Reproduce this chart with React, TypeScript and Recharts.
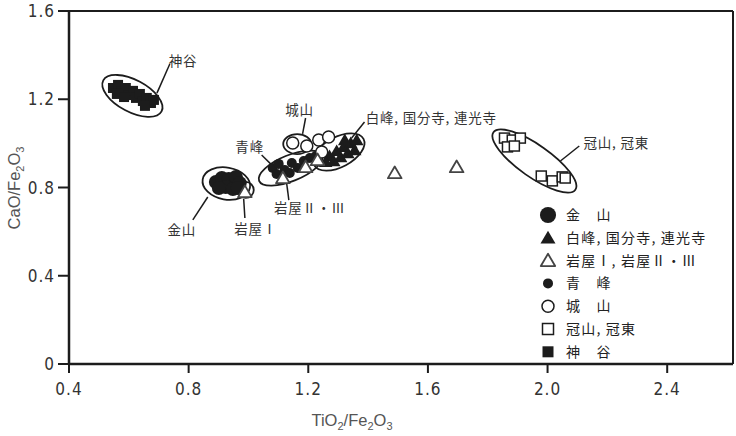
import React from "react";
import { ReferenceLine, Scatter, ScatterChart, XAxis, YAxis } from "recharts";

const INK = "#1c1c1c";
const TEXT = "#333";
const JP = "'Noto Sans CJK JP', 'Noto Sans CJK SC', sans-serif";
const NUM = "'Liberation Sans Narrow', 'DejaVu Sans Condensed', 'Liberation Sans', sans-serif";

const xTicks = [0.4, 0.8, 1.2, 1.6, 2.0, 2.4];
const yTicks = [0, 0.4, 0.8, 1.2, 1.6];
const X_MAX = 2.62;

// 神谷
const kamiya = [
  { x: 0.547, y: 1.251 }, { x: 0.564, y: 1.265 }, { x: 0.574, y: 1.233 }, { x: 0.59, y: 1.251 },
  { x: 0.6, y: 1.219 }, { x: 0.614, y: 1.238 }, { x: 0.624, y: 1.206 }, { x: 0.637, y: 1.224 },
  { x: 0.647, y: 1.192 }, { x: 0.66, y: 1.206 }, { x: 0.674, y: 1.183 }, { x: 0.684, y: 1.197 },
  { x: 0.56, y: 1.224 }, { x: 0.584, y: 1.21 }, { x: 0.654, y: 1.17 },
];

// 金山
const kanayama = [
  { x: 0.891, y: 0.825 }, { x: 0.911, y: 0.843 }, { x: 0.934, y: 0.839 }, { x: 0.958, y: 0.848 },
  { x: 0.971, y: 0.82 }, { x: 0.924, y: 0.802 }, { x: 0.901, y: 0.798 }, { x: 0.948, y: 0.793 },
  { x: 0.964, y: 0.798 },
];

// 青峰
const aomine = [
  { x: 1.081, y: 0.888 }, { x: 1.101, y: 0.907 }, { x: 1.121, y: 0.879 }, { x: 1.145, y: 0.911 },
  { x: 1.165, y: 0.888 }, { x: 1.185, y: 0.92 }, { x: 1.205, y: 0.934 }, { x: 1.094, y: 0.861 },
  { x: 1.138, y: 0.866 }, { x: 1.225, y: 0.943 },
];

// 白峰, 国分寺, 連光寺
const shiramine = [
  { x: 1.271, y: 0.943 }, { x: 1.295, y: 0.966 }, { x: 1.318, y: 0.984 }, { x: 1.342, y: 1.002 },
  { x: 1.362, y: 1.015 }, { x: 1.285, y: 0.92 }, { x: 1.308, y: 0.938 }, { x: 1.332, y: 0.956 },
  { x: 1.355, y: 0.97 }, { x: 1.258, y: 0.916 }, { x: 1.322, y: 1.015 },
];

// 城山
const shiroyama = [
  { x: 1.148, y: 1.002 }, { x: 1.195, y: 0.988 }, { x: 1.235, y: 1.015 }, { x: 1.268, y: 1.029 },
  { x: 1.245, y: 0.961 },
];

// 岩屋Ⅰ, 岩屋Ⅱ・Ⅲ
const iwaya = [
  { x: 0.988, y: 0.78 }, { x: 1.115, y: 0.843 }, { x: 1.191, y: 0.893 }, { x: 1.231, y: 0.925 },
  { x: 1.489, y: 0.866 }, { x: 1.696, y: 0.893 },
];

// 冠山, 冠東
const kanmuri = [
  { x: 1.856, y: 1.024 }, { x: 1.882, y: 1.015 }, { x: 1.909, y: 1.024 }, { x: 1.866, y: 0.984 },
  { x: 1.889, y: 0.988 }, { x: 1.979, y: 0.852 }, { x: 2.016, y: 0.83 }, { x: 2.049, y: 0.848 },
  { x: 2.059, y: 0.843 },
];

// group outlines (centre in data units, axes in px, tilt in degrees)
const outlines = [
  { x: 0.612, y: 1.215, rx: 33, ry: 16, tilt: 28 },
  { x: 0.926, y: 0.818, rx: 24, ry: 16, tilt: 10 },
  { x: 0.991, y: 0.789, rx: 8, ry: 8, tilt: 0 },
  { x: 1.141, y: 0.888, rx: 34, ry: 13, tilt: -22 },
  { x: 1.163, y: 0.997, rx: 14, ry: 10, tilt: 0 },
  { x: 1.302, y: 0.961, rx: 28, ry: 15, tilt: -28 },
  { x: 1.956, y: 0.92, rx: 50, ry: 16, tilt: 35 },
];

const labels = [
  { x: 0.781, y: 1.374, text: "神谷", anchor: "middle" },
  { x: 1.171, y: 1.151, text: "城山", anchor: "middle" },
  { x: 1.392, y: 1.115, text: "白峰, 国分寺, 連光寺", anchor: "start" },
  { x: 1.004, y: 0.984, text: "青峰", anchor: "middle" },
  { x: 2.12, y: 1.002, text: "冠山, 冠東", anchor: "start" },
  { x: 0.777, y: 0.607, text: "金山", anchor: "middle" },
  { x: 1.024, y: 0.612, text: "岩屋Ⅰ", anchor: "middle" },
  { x: 1.205, y: 0.707, text: "岩屋Ⅱ・Ⅲ", anchor: "middle" },
];

const leaders = [
  [{ x: 0.737, y: 1.36 }, { x: 0.694, y: 1.228 }],
  [{ x: 1.191, y: 1.115 }, { x: 1.181, y: 1.043 }],
  [{ x: 1.388, y: 1.097 }, { x: 1.345, y: 1.024 }],
  [{ x: 1.044, y: 0.947 }, { x: 1.081, y: 0.898 }],
  [{ x: 2.106, y: 0.988 }, { x: 2.043, y: 0.92 }],
  [{ x: 0.864, y: 0.757 }, { x: 0.814, y: 0.653 }],
  [{ x: 0.984, y: 0.748 }, { x: 0.988, y: 0.662 }],
  [{ x: 1.128, y: 0.816 }, { x: 1.135, y: 0.743 }],
];

type Mk = (cx: number, cy: number, k?: number) => React.ReactElement;

const bigDot: Mk = (cx, cy, k = 1) => <circle cx={cx} cy={cy} r={7 * k} fill={INK} />;
const smallDot: Mk = (cx, cy, k = 1) => <circle cx={cx} cy={cy} r={5 * k} fill={INK} />;
const openDot: Mk = (cx, cy, k = 1) => (
  <circle cx={cx} cy={cy} r={6 * k} fill="#fff" stroke={INK} strokeWidth={1.5} />
);
const tri = (cx: number, cy: number, k: number) => {
  const s = 6.5 * k;
  return `${cx},${cy - s} ${cx - s * 1.05},${cy + s * 0.8} ${cx + s * 1.05},${cy + s * 0.8}`;
};
const fillTri: Mk = (cx, cy, k = 1) => <polygon points={tri(cx, cy, k)} fill={INK} />;
const openTri: Mk = (cx, cy, k = 1) => (
  <polygon points={tri(cx, cy, k)} fill="#fff" stroke="#444" strokeWidth={1.8} strokeLinejoin="round" />
);
const openSq: Mk = (cx, cy, k = 1) => (
  <rect x={cx - 5 * k} y={cy - 5 * k} width={10 * k} height={10 * k} fill="#fff" stroke={INK} strokeWidth={1.5} />
);
const fillSq: Mk = (cx, cy, k = 1) => (
  <rect x={cx - 5 * k} y={cy - 5 * k} width={10 * k} height={10 * k} fill={INK} />
);

const asShape = (mk: Mk) => (p: any) => (p.cx == null ? <g /> : mk(p.cx, p.cy));

const legendRows: { text: string; mk: Mk; k: number }[] = [
  { text: "金　山", mk: bigDot, k: 1.15 },
  { text: "白峰, 国分寺, 連光寺", mk: fillTri, k: 1.1 },
  { text: "岩屋Ⅰ, 岩屋Ⅱ・Ⅲ", mk: openTri, k: 1.05 },
  { text: "青　峰", mk: smallDot, k: 1 },
  { text: "城　山", mk: openDot, k: 1 },
  { text: "冠山, 冠東", mk: openSq, k: 1.1 },
  { text: "神　谷", mk: fillSq, k: 1.1 },
];

const tickStyle = { fontFamily: NUM, fontSize: 17, fill: TEXT, letterSpacing: 1 };

export default function App() {
  return (
    <div style={{ position: "absolute", left: 0, top: 0, width: 736, height: 436, background: "#fff" }}>
      <ScatterChart width={736} height={436} margin={{ top: 11, right: 3, bottom: 0, left: 0 }}>
        <XAxis
          type="number"
          dataKey="x"
          domain={[0.4, X_MAX]}
          ticks={xTicks}
          height={72}
          tickSize={9}
          tickMargin={10}
          tick={tickStyle}
          tickFormatter={(v: number) => v.toFixed(1)}
          axisLine={{ stroke: INK, strokeWidth: 2.5 }}
          tickLine={{ stroke: INK, strokeWidth: 2 }}
          allowDataOverflow
        />
        <YAxis
          type="number"
          dataKey="y"
          domain={[0, 1.6]}
          ticks={yTicks}
          width={69}
          tickSize={11}
          tickMargin={3}
          tick={tickStyle}
          tickFormatter={(v: number) => (v === 0 ? "0" : v.toFixed(1))}
          axisLine={{ stroke: INK, strokeWidth: 2.5 }}
          tickLine={{ stroke: INK, strokeWidth: 2 }}
          allowDataOverflow
        />
        <ReferenceLine y={1.6} stroke={INK} strokeWidth={2} />
        <ReferenceLine x={X_MAX} stroke={INK} strokeWidth={2} />
        {leaders.map((seg, i) => (
          <ReferenceLine key={i} segment={seg} stroke={INK} strokeWidth={1.5} ifOverflow="visible" />
        ))}
        <Scatter
          data={outlines}
          isAnimationActive={false}
          shape={(p: any) =>
            p.cx == null ? (
              <g />
            ) : (
              <ellipse
                cx={p.cx}
                cy={p.cy}
                rx={p.payload.rx}
                ry={p.payload.ry}
                transform={`rotate(${p.payload.tilt} ${p.cx} ${p.cy})`}
                fill="none"
                stroke={INK}
                strokeWidth={1.8}
              />
            )
          }
        />
        <Scatter data={kamiya} isAnimationActive={false} shape={asShape(fillSq)} />
        <Scatter data={kanayama} isAnimationActive={false} shape={asShape(bigDot)} />
        <Scatter data={aomine} isAnimationActive={false} shape={asShape(smallDot)} />
        <Scatter data={shiramine} isAnimationActive={false} shape={asShape(fillTri)} />
        <Scatter data={shiroyama} isAnimationActive={false} shape={asShape(openDot)} />
        <Scatter data={iwaya} isAnimationActive={false} shape={asShape(openTri)} />
        <Scatter data={kanmuri} isAnimationActive={false} shape={asShape(openSq)} />
        <Scatter
          data={labels}
          isAnimationActive={false}
          shape={(p: any) =>
            p.cx == null ? (
              <g />
            ) : (
              <text
                x={p.cx}
                y={p.cy}
                dy="0.36em"
                textAnchor={p.payload.anchor}
                fontFamily={JP}
                fontSize={13.5}
                fill={TEXT}
                letterSpacing={0.8}
              >
                {p.payload.text}
              </text>
            )
          }
        />
      </ScatterChart>
      <svg width={736} height={436} style={{ position: "absolute", left: 0, top: 0, pointerEvents: "none" }}>
        <text
          transform="translate(20 188) rotate(-90)"
          textAnchor="middle"
          fontFamily="'Liberation Sans', sans-serif"
          fontSize={16.5}
          fill="#555"
        >
          CaO/Fe<tspan dy={4} fontSize={11}>2</tspan>
          <tspan dy={-4}>O</tspan>
          <tspan dy={4} fontSize={11}>3</tspan>
        </text>
        <text x={352} y={426} textAnchor="middle" fontFamily="'Liberation Sans', sans-serif" fontSize={16.5} fill="#555">
          TiO<tspan dy={4} fontSize={11}>2</tspan>
          <tspan dy={-4}>/Fe</tspan>
          <tspan dy={4} fontSize={11}>2</tspan>
          <tspan dy={-4}>O</tspan>
          <tspan dy={4} fontSize={11}>3</tspan>
        </text>
        {legendRows.map((r, i) => {
          const cy = 215 + i * 22.8;
          return (
            <g key={r.text}>
              {r.mk(548, cy, r.k)}
              <text x={566} y={cy} dy="0.36em" fontFamily={JP} fontSize={14} fill="#222" letterSpacing={1.2}>
                {r.text}
              </text>
            </g>
          );
        })}
      </svg>
    </div>
  );
}
